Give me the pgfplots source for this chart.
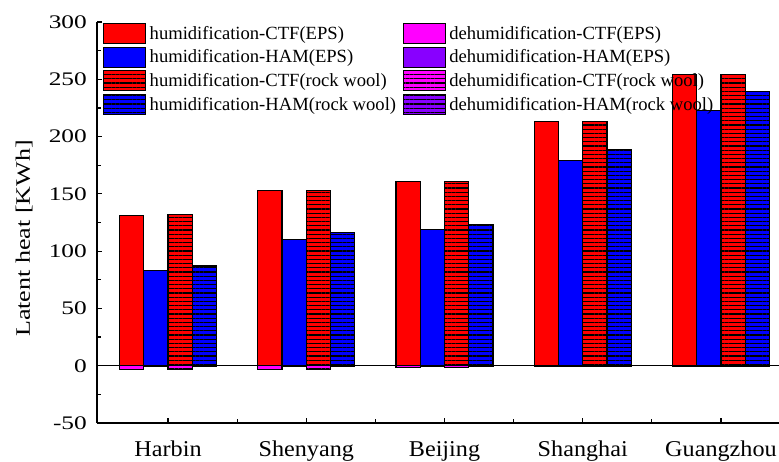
\documentclass[border=0pt]{standalone}
\usepackage{fontspec}
\setmainfont{Liberation Serif}
\usepackage{pgfplots}
\pgfplotsset{compat=1.18}
\usetikzlibrary{patterns.meta}
\definecolor{cred}{RGB}{255,0,0}
\definecolor{cblue}{RGB}{0,0,255}
\definecolor{cmag}{RGB}{255,0,255}
\definecolor{cviol}{RGB}{136,0,255}
\tikzset{
  hatch/.style={postaction={pattern={Lines[angle=0,distance=4.2pt,line width=1.1pt]},pattern color=black}},
}
\begin{document}
\begin{tikzpicture}
\path[use as bounding box] (0,0) rectangle (779pt,461pt);
\begin{axis}[
  at={(97pt,38pt)}, anchor=south west,
  scale only axis, width=682pt, height=401pt,
  xmin=-0.514, xmax=4.42,
  ymin=-50, ymax=300,
  axis x line*=bottom, axis y line*=left,
  axis line style={line width=1.4pt,-},
  ybar, bar width=0.1754,
  xtick={0,1,2,3,4},
  xticklabels={Harbin,Shenyang,Beijing,Shanghai,Guangzhou},
  minor x tick num=1,
  ytick={-50,0,50,100,150,200,250,300},
  minor y tick num=1,
  tick align=inside,
  major tick length=5pt, minor tick length=4pt,
  tick style={line width=1.2pt,black},
  xticklabel style={anchor=base, yshift=-33pt, inner sep=0pt, font=\fontsize{22.6}{24}\selectfont},
  xticklabel={\scalebox{1.07}[1]{\pgfmathparse{int(\tick)}\ifcase\pgfmathresult Harbin\or Shenyang\or Beijing\or Shanghai\or Guangzhou\fi}},
  yticklabel style={anchor=east, inner sep=0pt, xshift=-10pt, font=\fontsize{19.2}{22}\selectfont},
  yticklabel={\scalebox{1.32}[1]{\pgfmathprintnumber[assume math mode=true]{\tick}}},
  extra y ticks={0},
  extra y tick labels={},
  extra y tick style={grid=major, major grid style={black,line width=1.2pt}, major tick length=0pt},
  ylabel={\scalebox{1.27}[1]{Latent heat [KWh]}},
  ylabel style={font=\fontsize{20.5}{22}\selectfont, at={(axis description cs:-0.107,0.46)}, anchor=center},
  every axis plot/.append style={draw=black, line width=1.2pt},
  legend columns=4, transpose legend,
  legend cell align=left,
  legend image code/.code={\draw[#1] (0pt,-10pt) rectangle (42pt,10pt);},
  legend style={at={(axis description cs:0.0088,0.998)}, anchor=north west,
    draw=none, fill=none, inner sep=0pt, outer sep=0pt,
    font=\fontsize{18.6}{20}\selectfont,
    nodes={inner sep=0.5pt},
    row sep=2.5pt,
    /tikz/every odd column/.append style={column sep=3pt},
    /tikz/every even column/.append style={column sep=6pt}},
]
\addplot[fill=cred, bar shift=-0.2631] coordinates {(0,131) (1,153) (2,161) (3,213.5) (4,254)};
\addplot[fill=cblue, bar shift=-0.0877] coordinates {(0,83) (1,110) (2,119) (3,179) (4,223)};
\addplot[fill=cred, hatch, bar shift=0.0877] coordinates {(0,132) (1,153) (2,161) (3,213.5) (4,254)};
\addplot[fill=cblue, hatch, bar shift=0.2631] coordinates {(0,87) (1,116) (2,123.5) (3,189) (4,239.5)};
\addplot[fill=cmag, bar shift=-0.2631] coordinates {(0,-3) (1,-3) (2,-1.5) (3,-0.5) (4,-0.5)};
\addplot[fill=cviol, bar shift=-0.0877] coordinates {(0,-0.3) (1,-0.3) (2,-0.3) (3,-0.2) (4,-0.2)};
\addplot[fill=cmag, hatch, bar shift=0.0877] coordinates {(0,-3) (1,-3) (2,-1.5) (3,-0.5) (4,-0.5)};
\addplot[fill=cviol, hatch, bar shift=0.2631] coordinates {(0,-0.3) (1,-0.3) (2,-0.3) (3,-0.2) (4,-0.2)};
\legend{humidification-CTF(EPS),humidification-HAM(EPS),humidification-CTF(rock wool),humidification-HAM(rock wool),dehumidification-CTF(EPS),dehumidification-HAM(EPS),dehumidification-CTF(rock wool),dehumidification-HAM(rock wool)}
\end{axis}
\end{tikzpicture}
\end{document}
